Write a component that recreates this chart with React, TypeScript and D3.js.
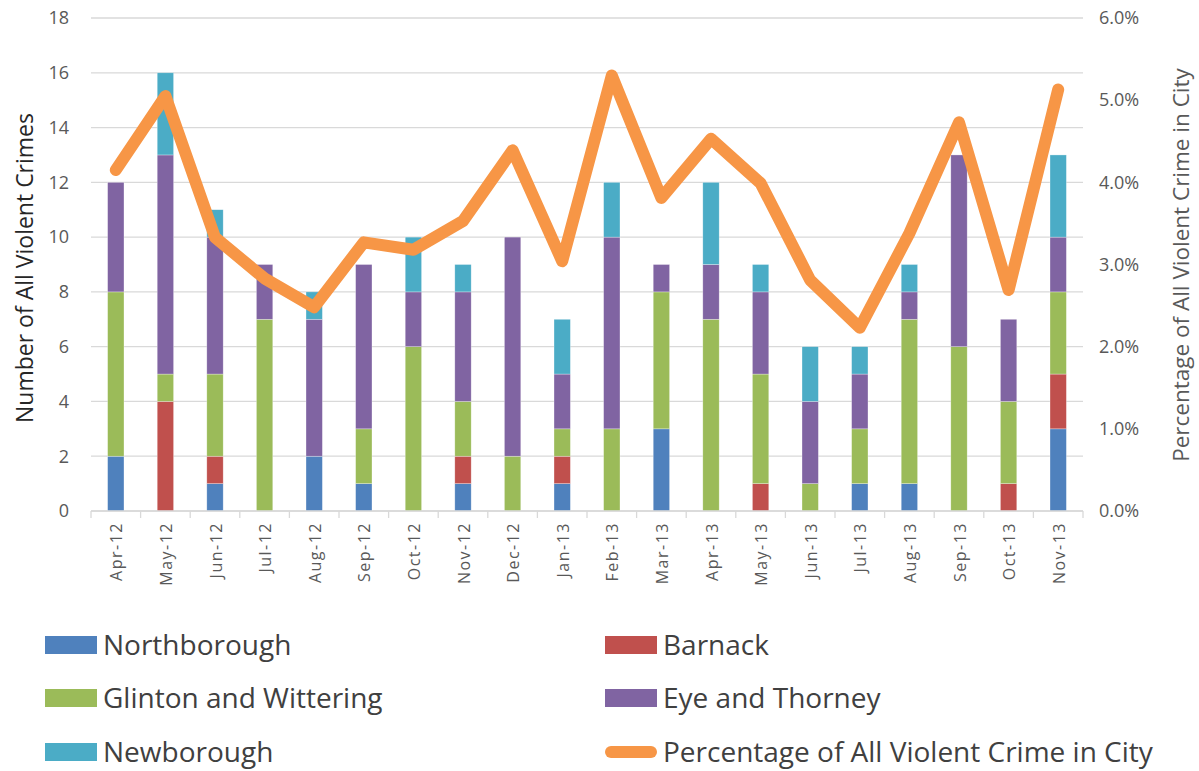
import React from "react";
import * as d3 from "d3";

const months = ["Apr-12","May-12","Jun-12","Jul-12","Aug-12","Sep-12","Oct-12","Nov-12","Dec-12","Jan-13","Feb-13","Mar-13","Apr-13","May-13","Jun-13","Jul-13","Aug-13","Sep-13","Oct-13","Nov-13"];
const northborough = [2,0,1,0,2,1,0,1,0,1,0,3,0,0,0,1,1,0,0,3];
const barnack =      [0,4,1,0,0,0,0,1,0,1,0,0,0,1,0,0,0,0,1,2];
const glinton =      [6,1,3,7,0,2,6,2,2,1,3,5,7,4,1,2,6,6,3,3];
const eyeThorney =   [4,8,5,2,5,6,2,4,8,2,7,1,2,3,3,2,1,7,3,2];
const newborough =   [0,3,1,0,1,0,2,1,0,2,2,0,3,1,2,1,1,0,0,3];
const pctCity = [4.15,5.05,3.33,2.83,2.48,3.27,3.18,3.53,4.39,3.04,5.30,3.81,4.53,3.99,2.81,2.23,3.38,4.73,2.69,5.13];
const leftTicks = [0,2,4,6,8,10,12,14,16,18];
const rightTicks = [0,1,2,3,4,5,6];

const seriesNames = ["Northborough","Barnack","Glinton and Wittering","Eye and Thorney","Newborough"];
const seriesData = [northborough, barnack, glinton, eyeThorney, newborough];
const colors = ["#4f81bd","#c0504d","#9bbb59","#8064a2","#4bacc6"];
const lineColor = "#f79646";
const lineName = "Percentage of All Violent Crime in City";

const W = 1199, H = 771;
const left = 91, right = 1083, top = 18, bottom = 511;
const font = "'Open Sans', 'Noto Sans', sans-serif";
const textColor = "#595959";

export default function App() {
  const x = d3.scaleBand<string>().domain(months).range([left, right]).paddingInner(0.67).paddingOuter(0.335);
  const y = d3.scaleLinear().domain([0, 18]).range([bottom, top]);
  const y2 = d3.scaleLinear().domain([0, 6]).range([bottom, top]);
  const band = d3.scaleBand<string>().domain(months).range([left, right]);

  const table = months.map((m, i) => {
    const o: any = { month: m };
    seriesNames.forEach((s, k) => (o[s] = seriesData[k][i]));
    return o;
  });
  const stack = d3.stack<any>().keys(seriesNames)(table);

  const line = d3.line<number>()
    .x((_, i) => (band(months[i]) as number) + band.bandwidth() / 2)
    .y(d => y2(d));

  const legendItems = [
    { name: seriesNames[0], x: 45, y: 645, c: colors[0] },
    { name: seriesNames[1], x: 605, y: 645, c: colors[1] },
    { name: seriesNames[2], x: 45, y: 698, c: colors[2] },
    { name: seriesNames[3], x: 605, y: 698, c: colors[3] },
    { name: seriesNames[4], x: 45, y: 752, c: colors[4] },
  ];

  return (
    <svg width={W} height={H} style={{ position: "absolute", left: 0, top: 0, background: "#fff" }} fontFamily={font}>
      {leftTicks.map(t => (
        <line key={"g" + t} x1={left} x2={right} y1={y(t)} y2={y(t)} stroke="#d9d9d9" strokeWidth={1.3} />
      ))}
      {leftTicks.map(t => (
        <text key={"l" + t} x={69} y={y(t)} dy="0.35em" textAnchor="end" fontSize={18} fill={textColor}>{t}</text>
      ))}
      {rightTicks.map(t => (
        <text key={"r" + t} x={1099} y={y2(t)} dy="0.35em" textAnchor="start" fontSize={18} fill={textColor}>{t.toFixed(1) + "%"}</text>
      ))}
      <text transform={`translate(33,${268}) rotate(-90)`} textAnchor="middle" fontSize={23} fill="#262626">Number of All Violent Crimes</text>
      <text transform={`translate(1189,${265}) rotate(-90)`} textAnchor="middle" fontSize={22.5} fill={textColor}>Percentage of All Violent Crime in City</text>

      {stack.map((layer, k) => (
        <g key={"s" + k} fill={colors[k]}>
          {layer.map((d, i) => d[1] - d[0] > 0 ? (
            <rect key={i} x={x(months[i])} width={x.bandwidth()} y={y(d[1])} height={y(d[0]) - y(d[1])} stroke="#ffffff" strokeOpacity={0.5} strokeWidth={0.6} />
          ) : null)}
        </g>
      ))}

      <line x1={left} x2={right} y1={bottom} y2={bottom} stroke="#d9d9d9" strokeWidth={1.3} />
      {months.concat(["end"]).map((m, i) => {
        const xx = left + i * band.step();
        return <line key={"t" + i} x1={xx} x2={xx} y1={bottom} y2={bottom + 7} stroke="#d9d9d9" strokeWidth={1.3} />;
      })}
      {months.map(m => (
        <text key={"x" + m} transform={`translate(${(band(m) as number) + band.bandwidth() / 2 + 1},${bottom + 11}) rotate(-90)`} textAnchor="end" dy="0.35em" fontSize={16} letterSpacing={1.5} fill={textColor}>{m}</text>
      ))}

      <path d={line(pctCity) || ""} fill="none" stroke={lineColor} strokeWidth={12} strokeLinejoin="round" strokeLinecap="round" />

      {legendItems.map(it => (
        <g key={it.name}>
          <rect x={it.x} y={it.y - 9} width={52} height={18} fill={it.c} />
          <text x={it.x + 58} y={it.y} dy="0.35em" fontSize={28} fill="#404040">{it.name}</text>
        </g>
      ))}
      <line x1={611} x2={651} y1={752} y2={752} stroke={lineColor} strokeWidth={12} strokeLinecap="round" />
      <text x={663} y={752} dy="0.35em" fontSize={28} fill="#404040">{lineName}</text>
    </svg>
  );
}
